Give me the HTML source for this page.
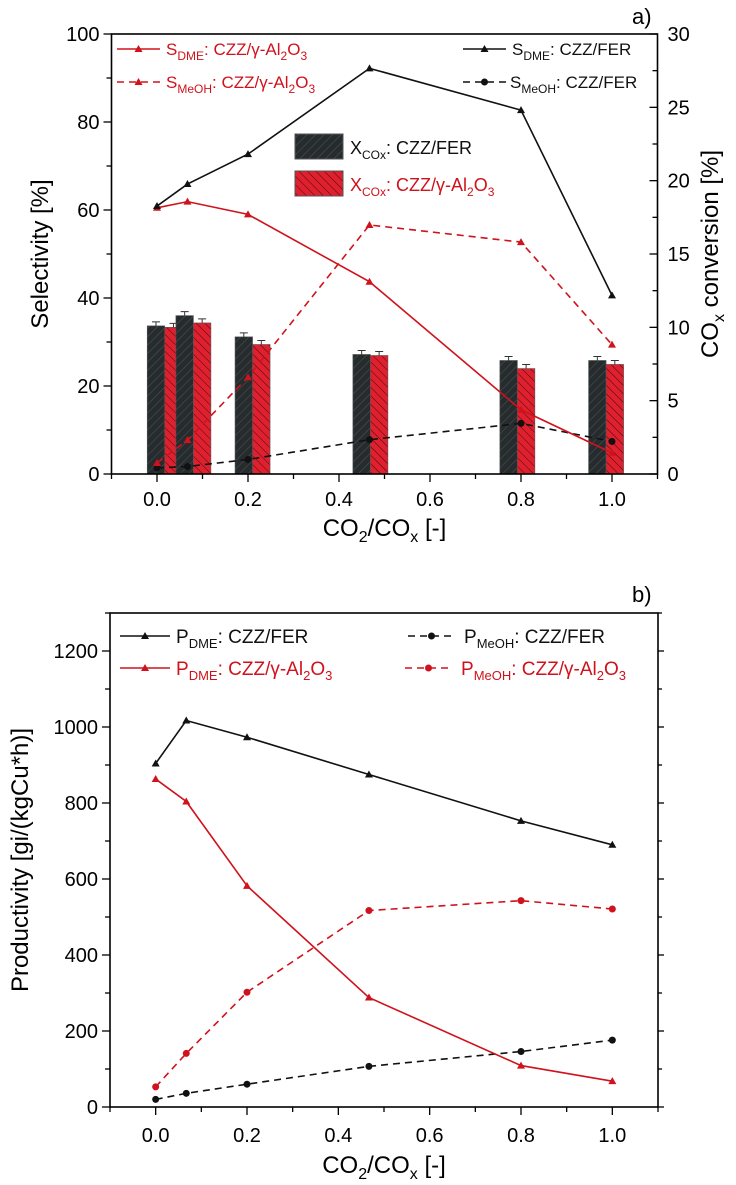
<!DOCTYPE html>
<html><head><meta charset="utf-8"><style>
html,body{margin:0;padding:0;background:#fff;}
svg{display:block;font-family:"Liberation Sans",Arial,sans-serif;}
</style></head><body>
<svg id="fig" width="736" height="1185" viewBox="0 0 736 1185" xmlns="http://www.w3.org/2000/svg">
<defs>
<pattern id="hatchDark" patternUnits="userSpaceOnUse" width="6" height="6" patternTransform="rotate(45)">
<rect width="6" height="6" fill="#262b2e"/><line x1="0" y1="0" x2="0" y2="6" stroke="#4a4f52" stroke-width="1.2"/></pattern>
<pattern id="hatchRed" patternUnits="userSpaceOnUse" width="6" height="6" patternTransform="rotate(-45)">
<rect width="6" height="6" fill="#e0202e"/><line x1="0" y1="0" x2="0" y2="6" stroke="#3a1012" stroke-width="1"/></pattern>
</defs>
<g id="top"></g>
<g id="bot"></g>
</svg>
<script>
// ---- Chart a) data ----
const xs = [0, 0.067, 0.2, 0.467, 0.8, 1.0];
const barXs = [0.017, 0.08, 0.21, 0.469, 0.792, 0.987];
const sDmeFer = [60.9, 65.9, 72.7, 92.2, 82.7, 40.6];
const sDmeAl = [60.5, 61.9, 59.0, 43.7, 14.6, 4.8];
const sMeohAl = [2.5, 7.7, 22.0, 56.6, 52.7, 29.4];
const sMeohFer = [1.4, 1.7, 3.3, 7.8, 11.5, 7.4];
const xConvFer = [10.1, 10.8, 9.35, 8.15, 7.74, 7.74];
const xConvAl = [10.0, 10.3, 8.83, 8.08, 7.19, 7.47];
const xTicks = [0.0, 0.2, 0.4, 0.6, 0.8, 1.0];
const selTicks = [0, 20, 40, 60, 80, 100];
const convTicks = [0, 5, 10, 15, 20, 25, 30];
// ---- Chart b) data ----
const pDmeFer = [904, 1017, 973, 875, 753, 690];
const pDmeAl = [863, 804, 582, 288, 109, 68];
const pMeohAl = [53, 141, 302, 517, 543, 521];
const pMeohFer = [20, 36, 60, 107, 146, 176];
const prodTicks = [0, 200, 400, 600, 800, 1000, 1200];

const NS = "http://www.w3.org/2000/svg";
function mk(parent, tag, attrs, text){
  const e = document.createElementNS(NS, tag);
  for (const k in attrs) e.setAttribute(k, attrs[k]);
  if (text !== undefined) e.textContent = text;
  parent.appendChild(e); return e;
}
const RED = "#d0121c", BLK = "#111";

function tri(g, x, y, c){ return mk(g,'path',{d:`M${x} ${y-4}L${x+4} ${y+3}L${x-4} ${y+3}Z`,fill:c}); }
function dot(g, x, y, c){ return mk(g,'circle',{cx:x,cy:y,r:3.5,fill:c}); }

// ================= TOP =================
(function(){
  const g = document.getElementById('top');
  const L=111.5, R=657.5, T=34, B=474;
  const X = v => L + (v + 0.1)/1.2*(R-L);
  const Y = v => B - v/100*(B-T);
  const Y2 = v => B - v/30*(B-T);
  const bw = 17.5;
  for (let i=0;i<barXs.length;i++){
    const bx = X(barXs[i]);
    const b1 = mk(g,'rect',{x:bx-bw,y:Y2(xConvFer[i]),width:bw,height:B-Y2(xConvFer[i]),fill:'url(#hatchDark)',stroke:'#555','stroke-width':0.6});
     
    const b2 = mk(g,'rect',{x:bx,y:Y2(xConvAl[i]),width:bw,height:B-Y2(xConvAl[i]),fill:'url(#hatchRed)',stroke:'#555','stroke-width':0.6});
     
    [[bx-bw/2,xConvFer[i]],[bx+bw/2,xConvAl[i]]].forEach(([cx,v])=>{
      const y=Y2(v), e=4;
      mk(g,'path',{d:`M${cx} ${y}V${y-e}M${cx-4} ${y-e}H${cx+4}`,stroke:'#333','stroke-width':1,fill:'none'});
    });
  }
  function series(vals, color, dash, marker, name){
    const pts = xs.map((x,i)=>`${X(x)},${Y(vals[i])}`).join(' ');
    const pl = mk(g,'polyline',{points:pts,fill:'none',stroke:color,'stroke-width':1.6,'stroke-dasharray':dash||'none'});
     
    xs.forEach((x,i)=>{ marker(g, X(x), Y(vals[i]), color); });
  }
  series(sMeohFer, BLK, '7,5', dot, 'line-smeoh-fer');
  series(sMeohAl, RED, '7,5', tri, 'line-smeoh-al2o3');
  series(sDmeAl, RED, null, tri, 'line-sdme-al2o3');
  series(sDmeFer, BLK, null, tri, 'line-sdme-fer');
  mk(g,'rect',{x:L,y:T,width:R-L,height:B-T,fill:'none',stroke:'#000','stroke-width':1.6});
  for (let v=-0.1; v<=1.101; v+=0.1){
    const major = Math.abs(Math.round(v*10)%2)===0;
    mk(g,'line',{x1:X(v),x2:X(v),y1:B,y2:B+(major?8:5),stroke:'#000','stroke-width':1.3});
  }
  xTicks.forEach(v=>{ const t=mk(g,'text',{x:X(v),y:B+32,'font-size':20,'text-anchor':'middle'}, v.toFixed(1));
      });
  for (let v=0; v<=100; v+=10){
    mk(g,'line',{x1:L,x2:L-(v%20===0?8:5),y1:Y(v),y2:Y(v),stroke:'#000','stroke-width':1.3});
  }
  selTicks.forEach(v=>{ mk(g,'text',{x:L-12,y:Y(v)+7,'font-size':20,'text-anchor':'end'}, String(v)); });
  for (let v=0; v<=30; v+=2.5){
    mk(g,'line',{x1:R,x2:R-(v%5===0?8:5),y1:Y2(v),y2:Y2(v),stroke:'#000','stroke-width':1.3});
  }
  convTicks.forEach(v=>{ mk(g,'text',{x:R+10,y:Y2(v)+7,'font-size':20,'text-anchor':'start'}, String(v)); });
  const xt = mk(g,'text',{x:X(0.5),y:B+62,'font-size':24,'text-anchor':'middle'});
  xt.innerHTML='CO<tspan font-size="16" dy="6">2</tspan><tspan dy="-6">/CO</tspan><tspan font-size="16" dy="6">x</tspan><tspan dy="-6"> [-]</tspan>';
   
  const yt = mk(g,'text',{x:0,y:0,'font-size':24,'text-anchor':'middle',transform:`translate(48,${(T+B)/2}) rotate(-90)`},'Selectivity [%]');
   
  const yt2 = mk(g,'text',{x:0,y:0,'font-size':24,'text-anchor':'middle',transform:`translate(718,${(T+B)/2}) rotate(-90)`});
  yt2.innerHTML='CO<tspan font-size="16" dy="6">x</tspan><tspan dy="-6"> conversion [%]</tspan>';
   
  const lab = mk(g,'text',{x:632,y:24,'font-size':22},'a)');
   
  function leg(x1,x2,y,color,dash,marker,html,tx,name){
    const lg = mk(g,'g',{});
     
    mk(lg,'line',{x1:x1,x2:x2,y1:y,y2:y,stroke:color,'stroke-width':1.6,'stroke-dasharray':dash||'none'});
    marker(lg,(x1+x2)/2,y,color);
    const t = mk(lg,'text',{x:tx,y:y+6,'font-size':17,fill:color}); t.innerHTML=html;
  }
  const sub=(s)=>`<tspan font-size="12" dy="5">${s}</tspan><tspan dy="-5">`;
  leg(117,160,49,RED,null,tri,`S${sub('DME')}: CZZ/γ-Al${sub('2')}O${sub('3')}</tspan></tspan></tspan>`,166,'legend-sdme-al2o3');
  leg(117,160,82,RED,'7,5',tri,`S${sub('MeOH')}: CZZ/γ-Al${sub('2')}O${sub('3')}</tspan></tspan></tspan>`,166,'legend-smeoh-al2o3');
  leg(463,506,49,BLK,null,tri,`S${sub('DME')}: CZZ/FER</tspan>`,512,'legend-sdme-fer');
  leg(463,506,82,BLK,'7,5',dot,`S${sub('MeOH')}: CZZ/FER</tspan>`,510,'legend-smeoh-fer');
  const b1=mk(g,'rect',{x:295,y:134,width:48,height:25,fill:'url(#hatchDark)',stroke:'#555'});
   
  const b2=mk(g,'rect',{x:295,y:171,width:48,height:25,fill:'url(#hatchRed)',stroke:'#555'});
   
  const t1=mk(g,'text',{x:350,y:154,'font-size':18,fill:BLK}); t1.innerHTML=`X${sub('COx')}: CZZ/FER</tspan>`;
  const t2=mk(g,'text',{x:350,y:191,'font-size':18,fill:RED}); t2.innerHTML=`X${sub('COx')}: CZZ/γ-Al${sub('2')}O${sub('3')}</tspan></tspan></tspan>`;
})();

// ================= BOTTOM =================
(function(){
  const g = document.getElementById('bot');
  const L=110, R=658, T=613, B=1107;
  const X = v => L + (v + 0.1)/1.2*(R-L);
  const Y = v => B - v/1300*(B-T);
  function series(vals, color, dash, marker, name){
    const pts = xs.map((x,i)=>`${X(x)},${Y(vals[i])}`).join(' ');
    const pl = mk(g,'polyline',{points:pts,fill:'none',stroke:color,'stroke-width':1.6,'stroke-dasharray':dash||'none'});
     
    xs.forEach((x,i)=>{ marker(g, X(x), Y(vals[i]), color); });
  }
  series(pMeohFer, BLK, '7,5', dot, 'line-pmeoh-fer');
  series(pMeohAl, RED, '7,5', dot, 'line-pmeoh-al2o3');
  series(pDmeAl, RED, null, tri, 'line-pdme-al2o3');
  series(pDmeFer, BLK, null, tri, 'line-pdme-fer');
  mk(g,'rect',{x:L,y:T,width:R-L,height:B-T,fill:'none',stroke:'#000','stroke-width':1.6});
  for (let v=-0.1; v<=1.101; v+=0.1){
    const major = Math.abs(Math.round(v*10)%2)===0;
    mk(g,'line',{x1:X(v),x2:X(v),y1:B,y2:B+(major?8:5),stroke:'#000','stroke-width':1.3});
  }
  xTicks.forEach(v=>{ const t=mk(g,'text',{x:X(v),y:B+35,'font-size':20,'text-anchor':'middle'}, v.toFixed(1));
      });
  for (let v=0; v<=1300; v+=100){
    mk(g,'line',{x1:L,x2:L-(v%200===0?8:5),y1:Y(v),y2:Y(v),stroke:'#000','stroke-width':1.3});
    mk(g,'line',{x1:R,x2:R+(v%200===0?6:4),y1:Y(v),y2:Y(v),stroke:'#000','stroke-width':1.3});
  }
  prodTicks.forEach(v=>{ mk(g,'text',{x:L-12,y:Y(v)+7,'font-size':20,'text-anchor':'end'}, String(v)); });
  const xt = mk(g,'text',{x:X(0.5),y:B+66,'font-size':24,'text-anchor':'middle'});
  xt.innerHTML='CO<tspan font-size="16" dy="6">2</tspan><tspan dy="-6">/CO</tspan><tspan font-size="16" dy="6">x</tspan><tspan dy="-6"> [-]</tspan>';
   
  const yt = mk(g,'text',{x:0,y:0,'font-size':24,'text-anchor':'middle',transform:`translate(28,${(T+B)/2}) rotate(-90)`},'Productivity [gi/(kgCu*h)]');
   
  const lab = mk(g,'text',{x:632,y:602,'font-size':22},'b)');
   
  function leg(x1,x2,y,color,dash,marker,html,tx,name){
    const lg = mk(g,'g',{});
     
    mk(lg,'line',{x1:x1,x2:x2,y1:y,y2:y,stroke:color,'stroke-width':1.6,'stroke-dasharray':dash||'none'});
    marker(lg,(x1+x2)/2,y,color);
    const t = mk(lg,'text',{x:tx,y:y+7,'font-size':19,fill:color}); t.innerHTML=html;
  }
  const sub=(s)=>`<tspan font-size="13" dy="5">${s}</tspan><tspan dy="-5">`;
  leg(120,170,636,BLK,null,tri,`P${sub('DME')}: CZZ/FER</tspan>`,176,'legend-pdme-fer');
  leg(120,170,668,RED,null,tri,`P${sub('DME')}: CZZ/γ-Al${sub('2')}O${sub('3')}</tspan></tspan></tspan>`,176,'legend-pdme-al2o3');
  leg(408,455,636,BLK,'7,5',dot,`P${sub('MeOH')}: CZZ/FER</tspan>`,464,'legend-pmeoh-fer');
  leg(405,452,668,RED,'7,5',dot,`P${sub('MeOH')}: CZZ/γ-Al${sub('2')}O${sub('3')}</tspan></tspan></tspan>`,461,'legend-pmeoh-al2o3');
})();
</script>
</body></html>
